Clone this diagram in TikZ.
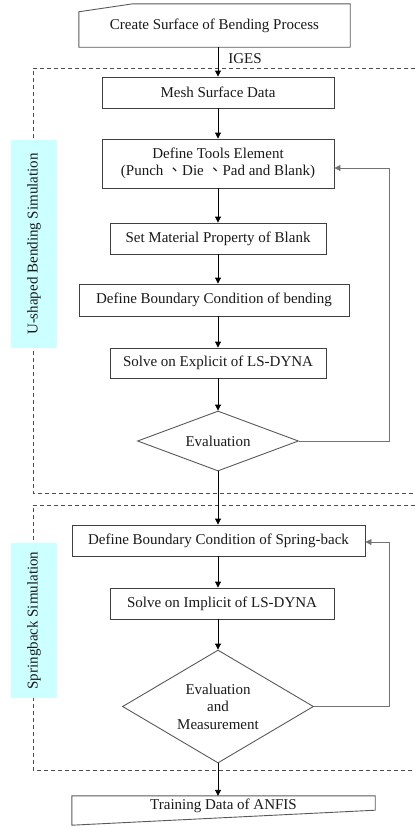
\documentclass[tikz,border=0pt]{standalone}
\usepackage{fontspec}
\setmainfont{Liberation Serif}
\newfontfamily\cjkfont{Noto Sans CJK TC}
\usetikzlibrary{arrows.meta,shapes.geometric}
\definecolor{sidecyan}{RGB}{204,255,255}
\begin{document}
\begin{tikzpicture}[x=1pt,y=-1pt,
  every node/.style={font=\fontsize{15}{17.5}\selectfont, text=black!90},
  box/.style={draw=black!75, line width=0.9pt, rectangle, inner sep=0pt, align=center},
  ghost/.style={rectangle, inner sep=0pt, align=center},
  dia/.style={draw=black!65, line width=0.9pt, diamond, inner sep=0pt, align=center},
  outline/.style={draw=black!65, line width=0.9pt},
  arr/.style={-{Triangle[length=6pt,width=6pt]}, line width=0.9pt, draw=black},
  fb/.style={-{Triangle[length=6pt,width=6pt]}, line width=0.9pt, draw=black!55},
  grp/.style={dash pattern=on 4pt off 3pt, line width=0.8pt, draw=black!70},
  side/.style={fill=sidecyan, rotate=90, inner sep=0pt}]
\useasboundingbox (0,0) rectangle (415,828);

% group frames
\draw[grp] (415,68) -- (33,68) -- (33,493) -- (415,493);
\draw[grp] (415,505) -- (33,505) -- (33,770) -- (415,770);

% side labels
\node[side, minimum width=208pt, minimum height=46pt] (lab1) at (34,244) {U-shaped Bending Simulation};
\node[side, minimum width=155pt, minimum height=46pt] (lab2) at (34,620.5) {Springback Simulation};

% top manual-input shape
\node[ghost, minimum width=271pt, minimum height=43pt] (create) at (214.5,25.5) {Create Surface of Bending Process};
\draw[outline] (create.south west) -- ([yshift=-8pt]create.north west) -- ([xshift=54pt]create.north west) -- (create.north east) -- (create.south east) -- cycle;

\node (iges) at (245,59) {IGES};

\node[box, minimum width=232pt, minimum height=31pt] (mesh) at (218,92.5) {Mesh Surface Data};
\node[box, minimum width=232pt, minimum height=49pt] (tools) at (218,163.5) {Define Tools Element\\(Punch {\cjkfont 、}Die {\cjkfont 、}Pad and Blank)};
\node[box, minimum width=216pt, minimum height=31pt] (mat) at (218,238.5) {Set Material Property of Blank};
\node[box, minimum width=270pt, minimum height=32pt] (bc) at (214,300) {Define Boundary Condition of bending};
\node[box, minimum width=216pt, minimum height=30pt] (solve1) at (218,363) {Solve on Explicit of LS-DYNA};
\node[dia, minimum width=161pt, minimum height=60pt, aspect=2.68] (ev1) at (218,441) {Evaluation};

\node[box, minimum width=293pt, minimum height=31pt] (bc2) at (218.5,540.5) {Define Boundary Condition of Spring-back};
\node[box, minimum width=224pt, minimum height=31pt] (solve2) at (222,603.5) {Solve on Implicit of LS-DYNA};
\node[dia, minimum width=191pt, minimum height=113pt, aspect=1.69] (ev2) at (218,706.5) {Evaluation\\and\\Measurement};

% bottom shape
\node[ghost, minimum width=303pt, minimum height=20pt] (train) at (223.5,806) {Training Data of ANFIS};
\draw[outline] (train.north west) -- (train.north east) -- ([yshift=6pt]train.south east) -- ([yshift=-9pt]train.south west) -- cycle;

% connectors
\draw[arr] (mesh |- create.south) -- (mesh.north);
\draw[arr] (mesh) -- (tools);
\draw[arr] (tools) -- (mat);
\draw[arr] (mat) -- (mat |- bc.north);
\draw[arr] (mat |- bc.south) -- (solve1.north);
\draw[arr] (solve1) -- (ev1);
\draw[arr] (ev1.south) -- (ev1.south |- bc2.north);
\draw[arr] (ev1.south |- bc2.south) -- (ev1.south |- solve2.north);
\draw[arr] (ev2 |- solve2.south) -- (ev2.north);
\draw[arr] (ev2.south) -- (ev2.south |- train.north);

% feedback loops
\draw[fb] (ev1.east) -- ++(90,0) |- ([yshift=-4.5pt]tools.east);
\draw[fb] (ev2.east) -- ++(75,0) |- ([yshift=-1.5pt]bc2.east);
\end{tikzpicture}
\end{document}
